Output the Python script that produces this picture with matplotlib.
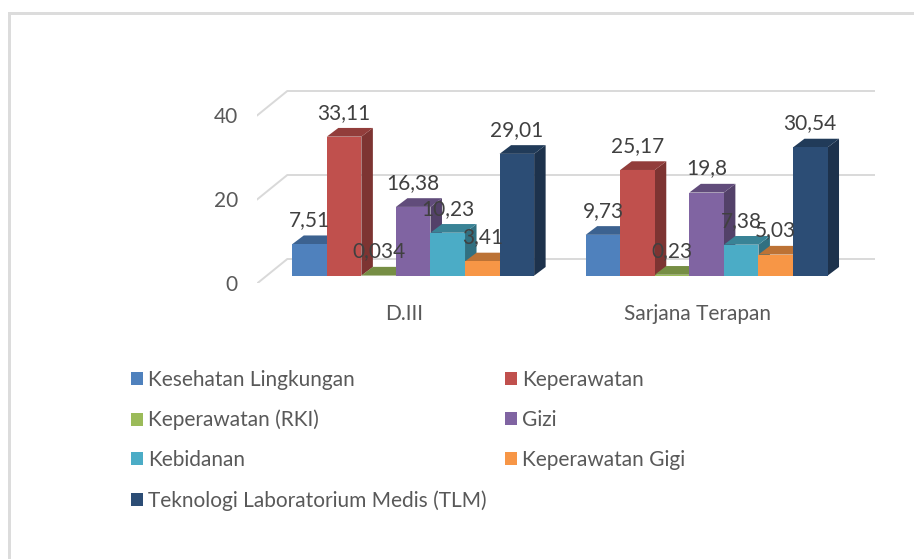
import matplotlib
matplotlib.use("Agg")
import matplotlib.pyplot as plt
from matplotlib.patches import Patch, Rectangle
from matplotlib.colors import to_rgb

plt.rcParams['font.family'] = ['Lato', 'DejaVu Sans']

categories = ["D.III", "Sarjana Terapan"]
series_names = ["Kesehatan Lingkungan", "Keperawatan", "Keperawatan (RKI)", "Gizi",
                "Kebidanan", "Keperawatan Gigi", "Teknologi Laboratorium Medis (TLM)"]
series_values = [[7.51, 9.73], [33.11, 25.17], [0.034, 0.23], [16.38, 19.8],
                 [10.23, 7.38], [3.41, 5.03], [29.01, 30.54]]
value_labels = [["7,51", "9,73"], ["33,11", "25,17"], ["0,034", "0,23"], ["16,38", "19,8"],
                ["10,23", "7,38"], ["3,41", "5,03"], ["29,01", "30,54"]]
series_colors = ["#4F81BD", "#C0504D", "#9BBB59", "#8064A2", "#4BACC6", "#F79646", "#2C4D75"]
y_ticks = [0, 20, 40]

W, H = 914, 559
PX_X = 293.4          # pixels per category
PX_Y = 4.2            # pixels per value unit
FS = 15.0
fig = plt.figure(figsize=(W / 100, H / 100), dpi=100, facecolor="white")

# axes: y=0 on the front floor edge (283.3 px), left edge at 257.3 px
left, right, bottom, top = 257.3, 875.0, 283.3, 73.3
ax = fig.add_axes([left / W, 1 - bottom / H, (right - left) / W, (bottom - top) / H])
ax.set_xlim((left - 413.2) / PX_X, (right - 413.2) / PX_X)
ax.set_ylim(0, (bottom - top) / PX_Y)
ax.patch.set_visible(False)
for s in ax.spines.values():
    s.set_visible(False)

fx = lambda px: px / PX_X
fy = lambda px: px / PX_Y

# floor / wall gridlines
wall_dx, wall_dy = fx(30), fy(24.3)
x0, x1 = ax.get_xlim()
for t in y_ticks:
    ax.plot([x0, x0 + wall_dx, x1], [t, t + wall_dy, t + wall_dy], color="#D9D9D9", lw=1.4,
            solid_joinstyle="miter", zorder=1)

# bars
base = fy(7.6)
bw = fx(34.55)
dx, dy = fx(11.5), fy(8.7)


def shade(color, k):
    return tuple(c * k for c in to_rgb(color))


z = 2
for i, (vals, col, labs) in enumerate(zip(series_values, series_colors, value_labels)):
    for c, (v, lab) in enumerate(zip(vals, labs)):
        xl = c + (i - 3.5) * bw
        xr = xl + bw
        yt = base + v
        ax.fill([xr, xr + dx, xr + dx, xr], [base, base + dy, yt + dy, yt],
                color=shade(col, 0.65), lw=0, zorder=z)
        ax.fill([xl, xl + dx, xr + dx, xr], [yt, yt + dy, yt + dy, yt],
                color=shade(col, 0.76), lw=0, zorder=z)
        ax.bar(xl, v, bw, bottom=base, align="edge", color=col, edgecolor="none", zorder=z + 0.5)
        ax.annotate(lab, (xl + bw / 2, yt), xytext=(0, 24 * 0.72), textcoords="offset points",
                    ha="center", va="center", fontsize=FS, color="#404040", zorder=50,
                    annotation_clip=False)
    z += 1

ax.set_yticks(y_ticks, [str(t) for t in y_ticks])
ax.set_xticks([c - fx(9) for c in range(len(categories))], categories)
ax.tick_params(axis="both", length=0, labelsize=FS, labelcolor="#595959")
ax.tick_params(axis="y", pad=14)
ax.tick_params(axis="x", pad=15)

# legend: reordered so that it reads row by row
handles = [Patch(facecolor=c, edgecolor="none", label=n) for n, c in zip(series_names, series_colors)]
order = [0, 2, 4, 6, 1, 3, 5]
leg = fig.legend([handles[i] for i in order], [series_names[i] for i in order], ncol=2,
                 loc="upper left", bbox_to_anchor=(130.7 / W, 1 - 370 / H),
                 bbox_transform=fig.transFigure, frameon=False, borderpad=0, borderaxespad=0,
                 fontsize=FS, labelcolor="#595959", handlelength=0.58, handleheight=0.58,
                 handletextpad=0.26, labelspacing=0.95, columnspacing=0.87)

# chart frame (top and left)
fig.add_artist(Rectangle((8 / W, 0), 2.6 / W, 1 - 12 / H, transform=fig.transFigure,
                         facecolor="#DCDCDC", edgecolor="none"))
fig.add_artist(Rectangle((8 / W, 1 - 15 / H), 1 - 8 / W, 3 / H, transform=fig.transFigure,
                         facecolor="#DCDCDC", edgecolor="none"))

fig.savefig("out.png", dpi=100, facecolor="white")
